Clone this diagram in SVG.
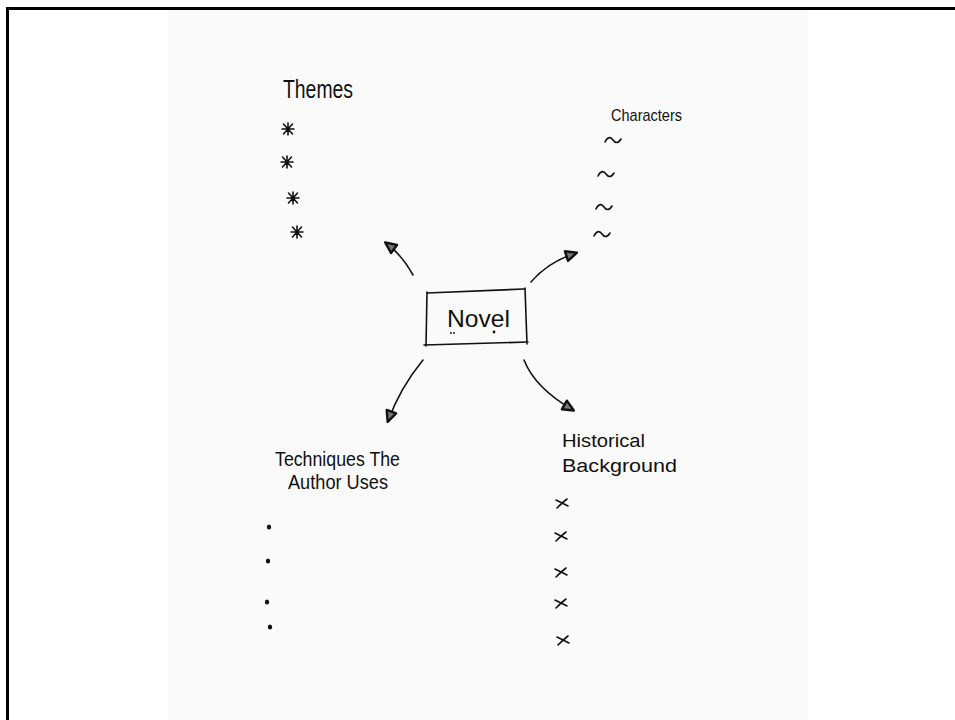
<svg xmlns="http://www.w3.org/2000/svg" width="955" height="720" viewBox="0 0 955 720">
  <defs>
    <style>
      .ink { fill: none; stroke: #111; stroke-width: 1.6; stroke-linecap: round; stroke-linejoin: round; }
      .hand { font-family: "Liberation Sans", "DejaVu Sans", sans-serif; fill: #111; }
      .dot { fill: #111; }
    </style>
    <marker id="head" markerUnits="userSpaceOnUse" markerWidth="18" markerHeight="18" refX="12" refY="7" orient="auto">
      <path d="M2,2 L13,7 L2,12 Z" fill="#777" stroke="#111" stroke-width="2.4" stroke-linejoin="round"/>
    </marker>
    <g id="star">
      <path class="ink" d="M-6,0 L6,0 M-4.5,-5 L4.5,5 M4.5,-5 L-4.5,5 M0,-6 L0,6" stroke-width="2.2"/>
    </g>
    <g id="tilde">
      <path class="ink" d="M-8,2 C-5,-4 -2,-3 0,0 C2,3 5,4 8,-1" stroke-width="1.8"/>
    </g>
    <g id="cross">
      <path class="ink" d="M-6,-3 C-2,-1 2,1 6,3 M5,-4 C1,-1 -2,2 -5,5" stroke-width="1.6"/>
    </g>
  </defs>

  <!-- page -->
  <rect x="0" y="0" width="955" height="720" fill="#ffffff"/>
  <rect x="168" y="10" width="640" height="710" fill="#fafafa"/>
  <path d="M7.5,720 L7.5,8.5 L955,8.5" fill="none" stroke="#000" stroke-width="3"/>

  <!-- connectors -->
  <g id="connectors">
    <path class="ink" d="M413,275 Q402,255 386,243" marker-end="url(#head)"/>
    <path class="ink" d="M531,282 Q548,262 576,253" marker-end="url(#head)"/>
    <path class="ink" d="M423,360 Q400,388 388,421" marker-end="url(#head)"/>
    <path class="ink" d="M524,360 Q535,388 573,410" marker-end="url(#head)"/>
  </g>

  <!-- centre -->
  <g id="novel">
    <path class="ink" d="M427,293 L524,289 M525,288 L527,344 M528,342 L424,345 M427,292 L426,346"/>
    <text class="hand" x="447" y="327" font-size="24" textLength="63" lengthAdjust="spacingAndGlyphs">Novel</text>
    <circle class="dot" cx="451" cy="333" r="0.9"/>
    <circle class="dot" cx="454" cy="333" r="0.9"/>
    <circle class="dot" cx="494" cy="332" r="1.4"/>
  </g>

  <!-- themes -->
  <g id="themes">
    <text class="hand" x="283" y="98" font-size="26" textLength="70" lengthAdjust="spacingAndGlyphs">Themes</text>
    <use href="#star" x="288" y="129"/>
    <use href="#star" x="287" y="162"/>
    <use href="#star" x="293" y="198"/>
    <use href="#star" x="297" y="232"/>
  </g>

  <!-- characters -->
  <g id="characters">
    <text class="hand" x="611" y="121" font-size="17" textLength="71" lengthAdjust="spacingAndGlyphs">Characters</text>
    <use href="#tilde" x="613" y="140"/>
    <use href="#tilde" x="606" y="174"/>
    <use href="#tilde" x="604" y="207"/>
    <use href="#tilde" x="602" y="234"/>
  </g>

  <!-- techniques -->
  <g id="techniques">
    <text class="hand" x="275" y="466" font-size="20" textLength="125" lengthAdjust="spacingAndGlyphs">Techniques The</text>
    <text class="hand" x="288" y="489" font-size="20" textLength="100" lengthAdjust="spacingAndGlyphs">Author Uses</text>
    <ellipse class="dot" cx="269" cy="527" rx="2.2" ry="2.5"/>
    <ellipse class="dot" cx="268" cy="561" rx="2.2" ry="2.5"/>
    <ellipse class="dot" cx="267" cy="602" rx="2.2" ry="2.5"/>
    <ellipse class="dot" cx="270" cy="627" rx="2.2" ry="2.5"/>
  </g>

  <!-- historical background -->
  <g id="historical">
    <text class="hand" x="562" y="447" font-size="18" textLength="83" lengthAdjust="spacingAndGlyphs">Historical</text>
    <text class="hand" x="562" y="472" font-size="18" textLength="115" lengthAdjust="spacingAndGlyphs">Background</text>
    <use href="#cross" x="562" y="503"/>
    <use href="#cross" x="561" y="536"/>
    <use href="#cross" x="561" y="572"/>
    <use href="#cross" x="561" y="603"/>
    <use href="#cross" x="563" y="640"/>
  </g>
</svg>
